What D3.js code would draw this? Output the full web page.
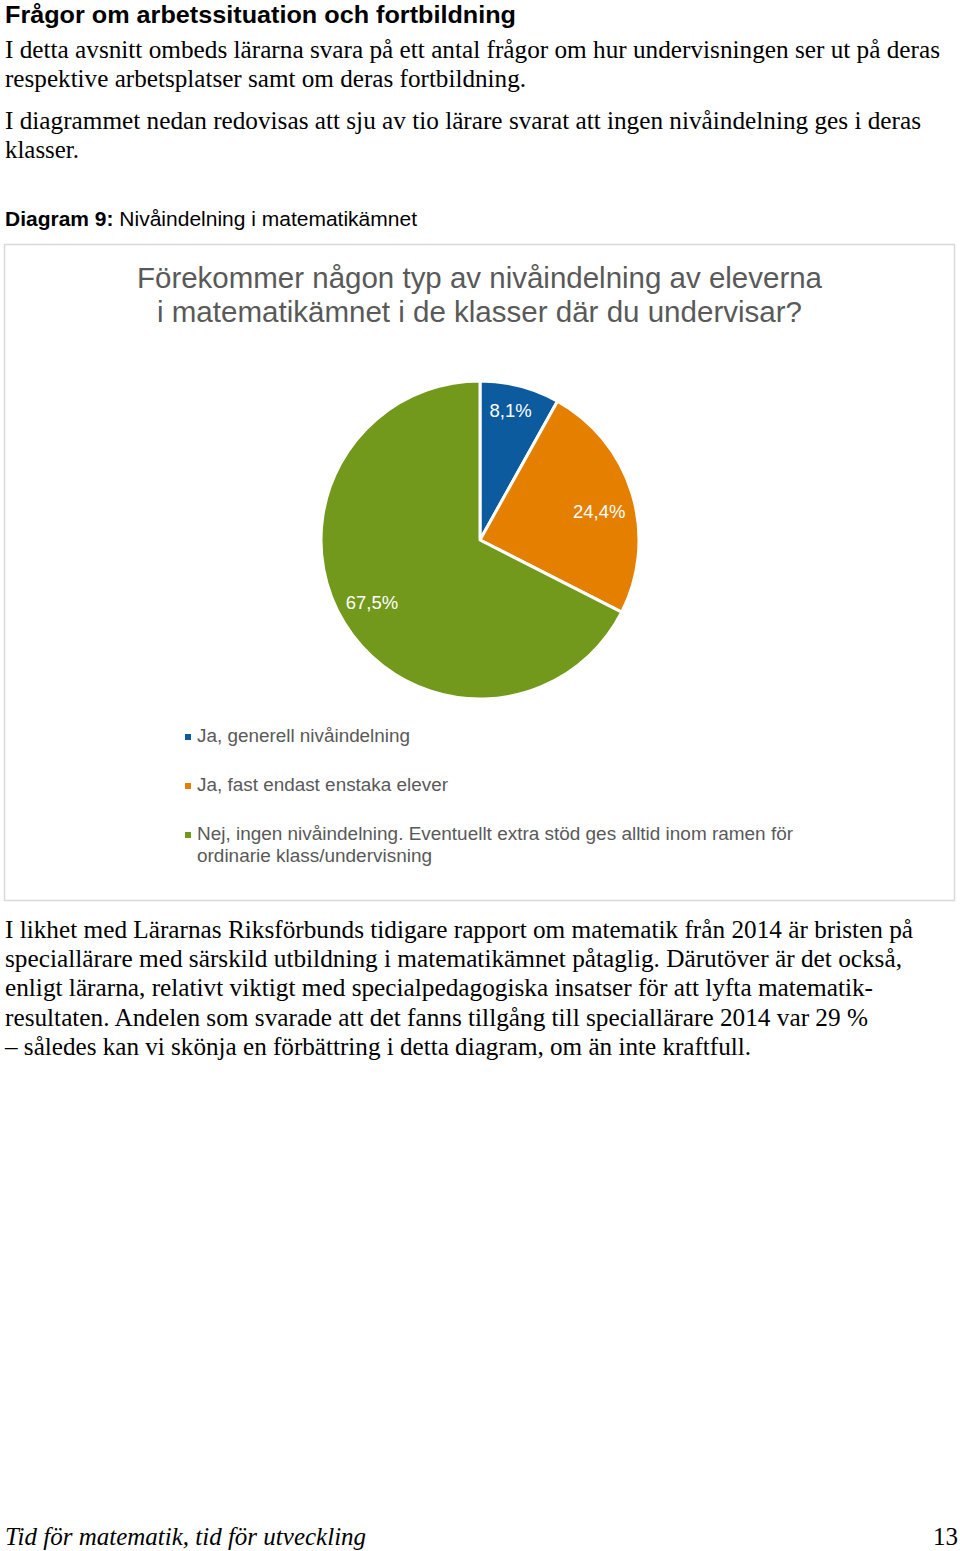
<!DOCTYPE html>
<html><head><meta charset="utf-8">
<script src="https://cdn.jsdelivr.net/npm/d3@7"></script>
<style>
html,body{margin:0;padding:0;background:#fff;}
svg{display:block;}
</style></head>
<body>
<script>
const categories = ["Ja, generell nivåindelning", "Ja, fast endast enstaka elever", "Nej, ingen nivåindelning. Eventuellt extra stöd ges alltid inom ramen för|ordinarie klass/undervisning"];
const values = [8.1, 24.4, 67.5];
const valueLabels = ["8,1%", "24,4%", "67,5%"];
const colors = ["#0b5b9e", "#e47f00", "#72991b"];
const chartTitle = ["Förekommer någon typ av nivåindelning av eleverna", "i matematikämnet i de klasser där du undervisar?"];

const W = 960, H = 1551;
const svg = d3.select("body").append("svg").attr("width", W).attr("height", H);
const serif = "'Liberation Serif','Times New Roman',serif";
const sans = "'Liberation Sans',Arial,sans-serif";

function fitText(sel, len) {
  return sel.attr("textLength", len).attr("lengthAdjust", "spacingAndGlyphs");
}

// Heading and paragraphs
fitText(svg.append("text").attr("x", 5).attr("y", 23).attr("font-family", sans).attr("font-weight", "bold")
  .attr("font-size", 24.5).attr("fill", "#000").text("Frågor om arbetssituation och fortbildning"), 511);
const paras = [
  ["I detta avsnitt ombeds lärarna svara på ett antal frågor om hur undervisningen ser ut på deras", 58, 935],
  ["respektive arbetsplatser samt om deras fortbildning.", 87, 521],
  ["I diagrammet nedan redovisas att sju av tio lärare svarat att ingen nivåindelning ges i deras", 129, 916],
  ["klasser.", 158, 74]
];
paras.forEach(p => fitText(svg.append("text").attr("x", 5).attr("y", p[1]).attr("font-family", serif)
  .attr("font-size", 24.5).attr("fill", "#000").text(p[0]), p[2]));

const cap = svg.append("text").attr("x", 5).attr("y", 226).attr("font-family", sans).attr("font-size", 20.5).attr("fill", "#000");
cap.append("tspan").attr("font-weight", "bold").text("Diagram 9: ");
cap.append("tspan").text("Nivåindelning i matematikämnet");
fitText(cap, 412);

// Chart box
svg.append("rect").attr("x", 4.5).attr("y", 244.5).attr("width", 950).attr("height", 656)
  .attr("fill", "#fff").attr("stroke", "#d9d9d9").attr("stroke-width", 1.5);

const titleLens = [685, 645];
chartTitle.forEach((t, i) => fitText(svg.append("text").attr("x", 479.5).attr("y", 288 + i * 34)
  .attr("text-anchor", "middle").attr("font-family", sans).attr("font-size", 29.5).attr("fill", "#595959").text(t), titleLens[i]));

// Pie
const cx = 480, cy = 540, R = 159;
const pie = d3.pie().sort(null).value(d => d)(values);
const arc = d3.arc().innerRadius(0).outerRadius(R);
const labelArc = d3.arc().innerRadius(R * 0.79).outerRadius(R * 0.79);
const labelNudge = [-7, 9, -3];
const g = svg.append("g").attr("transform", `translate(${cx},${cy})`);
g.selectAll("path").data(pie).enter().append("path")
  .attr("d", arc).attr("fill", (d, i) => colors[i]).attr("stroke", "#fff").attr("stroke-width", 3).attr("stroke-linejoin", "round");
g.selectAll("text.lbl").data(pie).enter().append("text").attr("class", "lbl")
  .attr("transform", (d, i) => { const c = labelArc.centroid(d); return `translate(${c[0] - 1},${c[1] + 6 + labelNudge[i]})`; })
  .attr("text-anchor", "middle").attr("font-family", sans).attr("font-size", 18.5).attr("fill", "#fff")
  .text((d, i) => valueLabels[i]);

// Legend
const legY = [742, 791, 840];
const legLens = [[213], [251], [596, 235]];
categories.forEach((c, i) => {
  svg.append("rect").attr("x", 185).attr("y", legY[i] - 8).attr("width", 6).attr("height", 6).attr("fill", colors[i]);
  c.split("|").forEach((line, j) => fitText(svg.append("text").attr("x", 197).attr("y", legY[i] + j * 22)
    .attr("font-family", sans).attr("font-size", 18.7).attr("fill", "#595959").text(line), legLens[i][j]));
});

// Bottom paragraph
const bottom = [
  ["I likhet med Lärarnas Riksförbunds tidigare rapport om matematik från 2014 är bristen på", 908],
  ["speciallärare med särskild utbildning i matematikämnet påtaglig. Därutöver är det också,", 897],
  ["enligt lärarna, relativt viktigt med specialpedagogiska insatser för att lyfta matematik-", 868],
  ["resultaten. Andelen som svarade att det fanns tillgång till speciallärare 2014 var 29 %", 863],
  ["– således kan vi skönja en förbättring i detta diagram, om än inte kraftfull.", 746]
];
bottom.forEach((t, i) => fitText(svg.append("text").attr("x", 5).attr("y", 938 + i * 29.2).attr("font-family", serif)
  .attr("font-size", 24.5).attr("fill", "#000").text(t[0]), t[1]));

// Footer
svg.append("text").attr("x", 5).attr("y", 1545).attr("font-family", serif).attr("font-style", "italic")
  .attr("font-size", 25).attr("fill", "#000").text("Tid för matematik, tid för utveckling");
svg.append("text").attr("x", 958).attr("y", 1545).attr("text-anchor", "end").attr("font-family", serif)
  .attr("font-size", 25).attr("fill", "#000").text("13");
</script>
</body></html>
